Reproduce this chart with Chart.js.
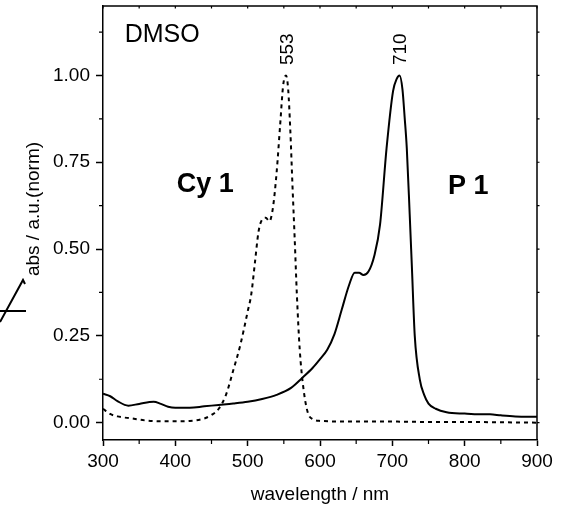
<!DOCTYPE html>
<html>
<head>
<meta charset="utf-8">
<script src="https://cdn.jsdelivr.net/npm/chart.js@4.4.1/dist/chart.umd.min.js"></script>
<style>
  html, body { margin: 0; padding: 0; background: #fff; }
  #wrap { width: 562px; height: 506px; }
</style>
</head>
<body>
<div id="wrap"><canvas id="chart" width="562" height="506"></canvas></div>
<script>
// P 1 (solid line) - wavelength in nm and normalised absorbance
const wavelengthsP1 = [300, 310, 320, 335, 350, 370, 380, 390, 400, 420, 440, 460, 480, 500, 520, 540, 560, 575, 590, 600, 610, 620, 630, 640, 648, 654, 660, 667, 675, 683, 692, 701, 706, 710, 714, 717, 720, 724, 727, 731, 738, 744, 750, 760, 775, 800, 821, 835, 850, 870, 900];
const absP1 = [0.083, 0.076, 0.062, 0.049, 0.054, 0.060, 0.054, 0.046, 0.043, 0.043, 0.047, 0.051, 0.055, 0.060, 0.068, 0.080, 0.100, 0.128, 0.158, 0.183, 0.210, 0.255, 0.325, 0.395, 0.432, 0.432, 0.425, 0.435, 0.480, 0.570, 0.790, 0.955, 0.990, 1.000, 0.960, 0.880, 0.790, 0.600, 0.450, 0.250, 0.124, 0.080, 0.055, 0.040, 0.030, 0.026, 0.024, 0.024, 0.021, 0.018, 0.017];

// Cy 1 (dotted line)
const wavelengthsCy1 = [300, 310, 320, 340, 360, 380, 400, 420, 440, 450, 460, 470, 480, 490, 500, 505, 510, 515, 520, 525, 530, 535, 540, 545, 549, 553, 556, 559, 562, 565, 568, 572, 577, 583, 590, 600, 650, 700, 750, 800, 850, 900];
const absCy1 = [0.040, 0.025, 0.018, 0.012, 0.006, 0.004, 0.004, 0.005, 0.012, 0.022, 0.040, 0.080, 0.150, 0.225, 0.320, 0.370, 0.460, 0.550, 0.585, 0.590, 0.580, 0.620, 0.720, 0.860, 0.970, 1.000, 0.960, 0.840, 0.680, 0.530, 0.370, 0.210, 0.100, 0.030, 0.010, 0.005, 0.003, 0.003, 0.002, 0.002, 0.001, 0.000];

// axis ticks
const xTicks = [300, 400, 500, 600, 700, 800, 900];
const xMinorTicks = [350, 450, 550, 650, 750, 850];
const yTicks = [0, 0.25, 0.5, 0.75, 1.0];
const yMinorTicks = [0.125, 0.375, 0.625, 0.875, 1.125];

// peak labels
const peakLabels = ['553', '710'];
const peakWavelengths = [553, 710];

const FONT = "'Liberation Sans', Arial, Helvetica, sans-serif";

const toPoints = (xs, ys) => xs.map((x, i) => ({ x: x, y: ys[i] }));

// draws frame, minor ticks, axis titles and text annotations
const decorations = {
  id: 'decorations',
  afterDraw(chart) {
    const ctx = chart.ctx;
    const area = chart.chartArea;
    const xs = chart.scales.x;
    const ys = chart.scales.y;
    ctx.save();
    ctx.strokeStyle = '#000';
    ctx.lineWidth = 1.5;

    // top and right frame lines
    ctx.beginPath();
    ctx.moveTo(area.left, area.top);
    ctx.lineTo(area.right, area.top);
    ctx.lineTo(area.right, area.bottom);
    ctx.stroke();

    // minor ticks on bottom/left, small mirrored ticks on top/right
    ctx.lineWidth = 1.2;
    ctx.beginPath();
    xMinorTicks.forEach(v => {
      const px = xs.getPixelForValue(v);
      ctx.moveTo(px, area.bottom);
      ctx.lineTo(px, area.bottom + 4);
    });
    xTicks.concat(xMinorTicks).forEach(v => {
      const px = xs.getPixelForValue(v);
      ctx.moveTo(px, area.top);
      ctx.lineTo(px, area.top + 2.5);
    });
    yMinorTicks.forEach(v => {
      const py = ys.getPixelForValue(v);
      ctx.moveTo(area.left, py);
      ctx.lineTo(area.left - 4, py);
    });
    yTicks.concat(yMinorTicks).forEach(v => {
      const py = ys.getPixelForValue(v);
      ctx.moveTo(area.right, py);
      ctx.lineTo(area.right + 2.5, py);
    });
    ctx.stroke();

    ctx.fillStyle = '#000';

    // axis titles
    ctx.font = '19px ' + FONT;
    ctx.textAlign = 'center';
    ctx.textBaseline = 'middle';
    ctx.fillText('wavelength / nm', (area.left + area.right) / 2, 495);
    ctx.save();
    ctx.translate(34, 209);
    ctx.rotate(-Math.PI / 2);
    ctx.fillText('abs / a.u.(norm)', 0, 0);
    ctx.restore();

    // broken axis mark at the far left
    ctx.lineWidth = 2;
    ctx.beginPath();
    ctx.moveTo(0, 311);
    ctx.lineTo(26, 311);
    ctx.moveTo(0, 322);
    ctx.lineTo(23, 280);
    ctx.lineTo(25, 284);
    ctx.stroke();

    // labels inside the plot
    ctx.textAlign = 'left';
    ctx.textBaseline = 'alphabetic';
    ctx.font = '25px ' + FONT;
    ctx.fillText('DMSO', xs.getPixelForValue(330), ys.getPixelForValue(1.095));
    ctx.font = 'bold 27px ' + FONT;
    ctx.fillText('Cy 1', xs.getPixelForValue(402), ys.getPixelForValue(0.664));
    ctx.fillText('P 1', xs.getPixelForValue(777), ys.getPixelForValue(0.658));

    // peak wavelengths, rotated
    ctx.font = '19px ' + FONT;
    ctx.textBaseline = 'middle';
    peakLabels.forEach((txt, i) => {
      ctx.save();
      ctx.translate(xs.getPixelForValue(peakWavelengths[i] + 2), ys.getPixelForValue(1.03));
      ctx.rotate(-Math.PI / 2);
      ctx.fillText(txt, 0, 0);
      ctx.restore();
    });
    ctx.restore();
  }
};

new Chart(document.getElementById('chart'), {
  type: 'line',
  data: {
    datasets: [
      {
        label: 'P 1',
        data: toPoints(wavelengthsP1, absP1),
        borderColor: '#000',
        borderWidth: 2,
        pointRadius: 0,
        cubicInterpolationMode: 'monotone',
        fill: false
      },
      {
        label: 'Cy 1',
        data: toPoints(wavelengthsCy1, absCy1),
        borderColor: '#000',
        borderWidth: 2,
        borderDash: [4, 4],
        pointRadius: 0,
        cubicInterpolationMode: 'monotone',
        fill: false
      }
    ]
  },
  options: {
    responsive: false,
    animation: false,
    layout: { padding: { left: 0, top: 6, right: 25, bottom: 0 } },
    plugins: {
      legend: { display: false },
      tooltip: { enabled: false }
    },
    scales: {
      x: {
        type: 'linear',
        min: 300,
        max: 900,
        afterBuildTicks: (scale) => { scale.ticks = xTicks.map(v => ({ value: v })); },
        afterFit: (scale) => {
          scale.height = 66;
          scale.paddingLeft = 0;
          scale.paddingRight = 0;
        },
        border: { display: true, color: '#000', width: 1.5 },
        grid: { drawOnChartArea: false, tickLength: 6, tickColor: '#000', tickWidth: 1.5 },
        ticks: {
          color: '#000',
          padding: 4,
          maxRotation: 0,
          font: { family: FONT, size: 19 }
        }
      },
      y: {
        min: -0.05,
        max: 1.2,
        afterBuildTicks: (scale) => { scale.ticks = yTicks.map(v => ({ value: v })); },
        afterFit: (scale) => {
          scale.width = 103;
          scale.paddingTop = 0;
          scale.paddingBottom = 0;
        },
        border: { display: true, color: '#000', width: 1.5 },
        grid: { drawOnChartArea: false, tickLength: 7, tickColor: '#000', tickWidth: 1.5 },
        ticks: {
          color: '#000',
          padding: 6,
          font: { family: FONT, size: 19 },
          callback: (v) => v.toFixed(2)
        }
      }
    }
  },
  plugins: [decorations]
});
</script>
</body>
</html>
